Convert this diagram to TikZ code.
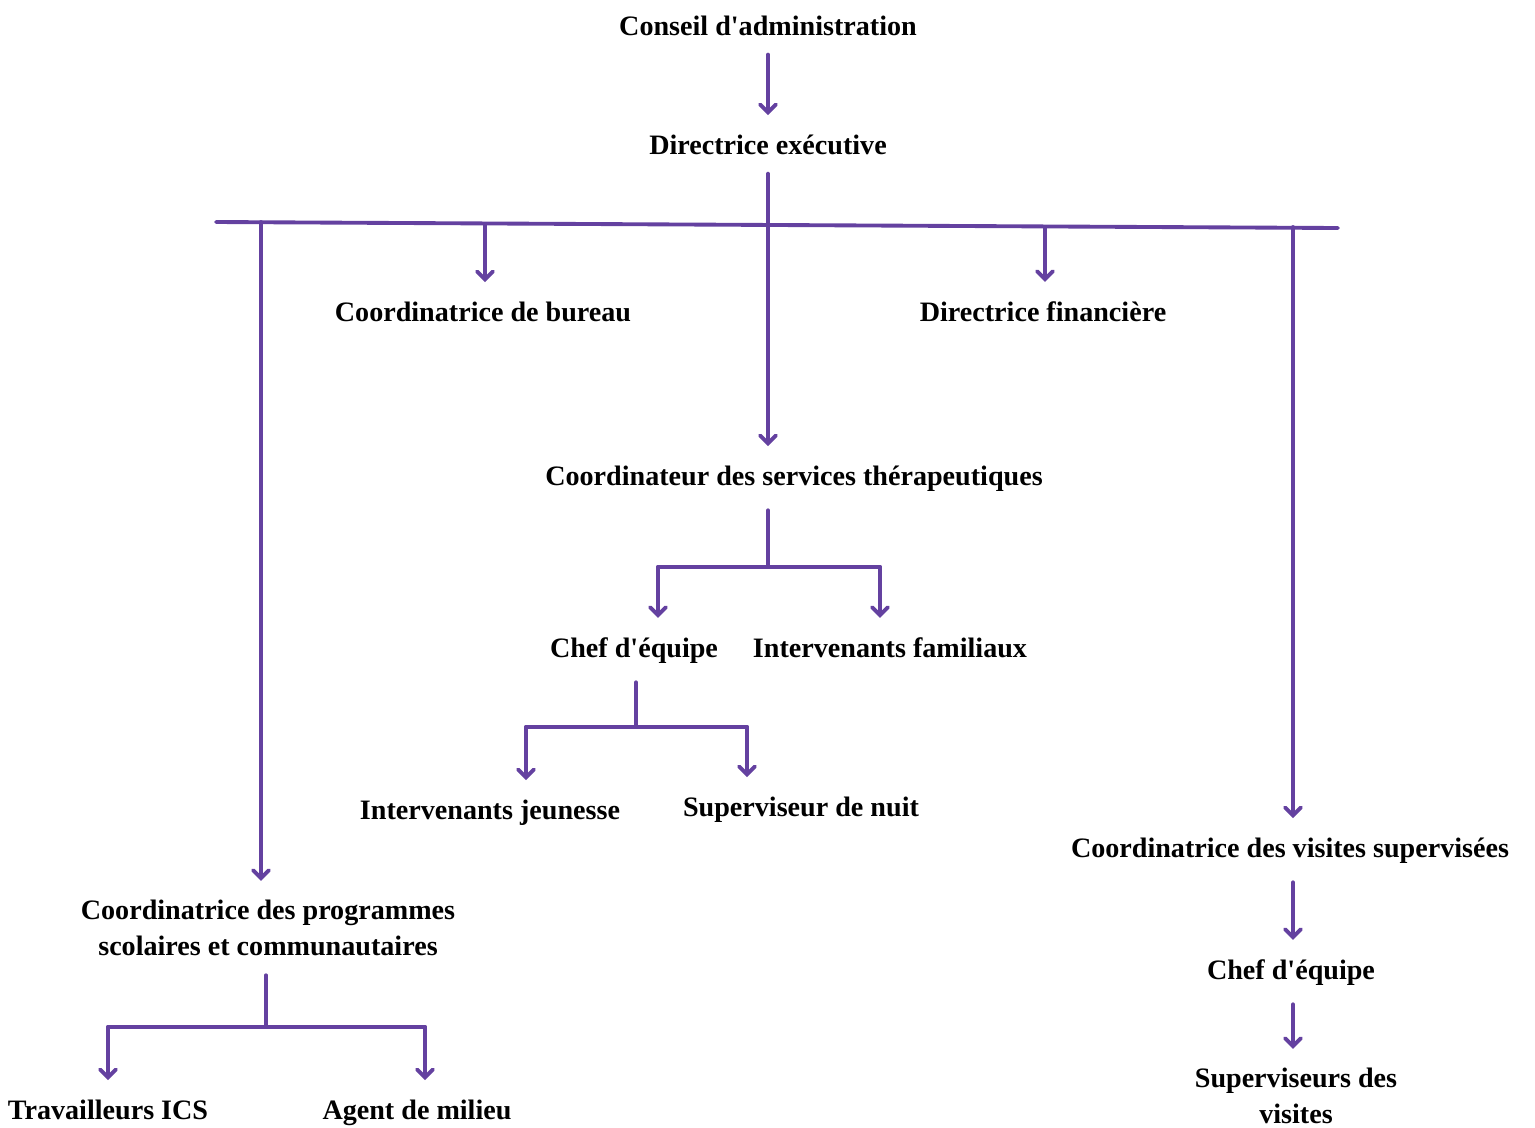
\documentclass[tikz,border=0pt]{standalone}
\usepackage{fontspec}
\setmainfont{Liberation Serif}[Ligatures=TeXOff]
\usetikzlibrary{arrows.meta}
\definecolor{orgpurple}{HTML}{6441A0}
\tikzset{
	poste/.style={font=\bfseries\fontsize{16}{20.5}\selectfont, inner sep=0pt, outer xsep=0pt, outer ysep=11pt, align=center, anchor=base},
	lien/.style={orgpurple, line width=2.2pt, line cap=round},
	fleche/.style={lien, -{Straight Barb[length=4.5pt,width=9pt,line cap=round]}}
}
\begin{document}
\begin{tikzpicture}[x=0.02cm,y=-0.02cm]
	\useasboundingbox (0,0) rectangle (1535,1127);
	\node[poste] (conseil) at (768,35) {Conseil d'administration};
	\node[poste] (direx) at (768,154) {Directrice exécutive};
	\draw[fleche] (conseil.south) -- (direx.north);
	\coordinate (barg) at (216,222);
	\coordinate (bard) at (1338,228);
	\coordinate (hub) at (768,225);
	\draw[lien] (barg) -- (bard);
	\draw[lien] (direx.south) -- (hub);
	\node[poste] (bureau) at (483,321) {Coordinatrice de bureau};
	\node[poste] (finance) at (1043,321) {Directrice financière};
	\node[poste] (therap) at (794,485) {Coordinateur des services thérapeutiques};
	\node[poste,anchor=center] (prog) at (268,928) {Coordinatrice des programmes\\scolaires et communautaires};
	\node[poste] (supvis) at (1290,857) {Coordinatrice des visites supervisées};
	\coordinate (jprog) at (261,222);
	\coordinate (jbur) at (485,224);
	\coordinate (jfin) at (1045,227);
	\coordinate (jvis) at (1293,227);
	\draw[fleche] (jprog) -- (jprog |- prog.north);
	\draw[fleche] (jbur) -- (jbur |- bureau.north);
	\draw[fleche] (hub) -- (hub |- therap.north);
	\draw[fleche] (jfin) -- (jfin |- finance.north);
	\draw[fleche] (jvis) -- (jvis |- supvis.north);
	\node[poste] (chef) at (634,657) {Chef d'équipe};
	\node[poste] (famil) at (890,657) {Intervenants familiaux};
	\coordinate (tfork) at (768,567);
	\coordinate (tg) at (658,567);
	\coordinate (td) at (880,567);
	\draw[lien] (tfork |- therap.south) -- (tfork);
	\draw[lien] (tg) -- (td);
	\draw[fleche] (tg) -- (tg |- chef.north);
	\draw[fleche] (td) -- (td |- famil.north);
	\node[poste] (jeunes) at (490,819) {Intervenants jeunesse};
	\node[poste] (nuit) at (801,816) {Superviseur de nuit};
	\coordinate (cfork) at (636,727);
	\coordinate (cg) at (526,727);
	\coordinate (cd) at (747,727);
	\draw[lien] (cfork |- chef.south) -- (cfork);
	\draw[lien] (cg) -- (cd);
	\draw[fleche] (cg) -- (cg |- jeunes.north);
	\draw[fleche] (cd) -- (cd |- nuit.north);
	\node[poste] (ics) at (108,1119) {Travailleurs ICS};
	\node[poste] (milieu) at (417,1119) {Agent de milieu};
	\coordinate (pfork) at (266,1027);
	\coordinate (pg) at (108,1027);
	\coordinate (pd) at (425,1027);
	\draw[lien] (pfork |- prog.south) -- (pfork);
	\draw[lien] (pg) -- (pd);
	\draw[fleche] (pg) -- (pg |- ics.north);
	\draw[fleche] (pd) -- (pd |- milieu.north);
	\node[poste] (chefv) at (1291,979) {Chef d'équipe};
	\node[poste,anchor=center] (supervis) at (1296,1096) {Superviseurs des\\visites};
	\draw[fleche] (supvis.south -| jvis) -- (chefv.north -| jvis);
	\draw[fleche] (chefv.south -| jvis) -- (supervis.north -| jvis);
\end{tikzpicture}
\end{document}
